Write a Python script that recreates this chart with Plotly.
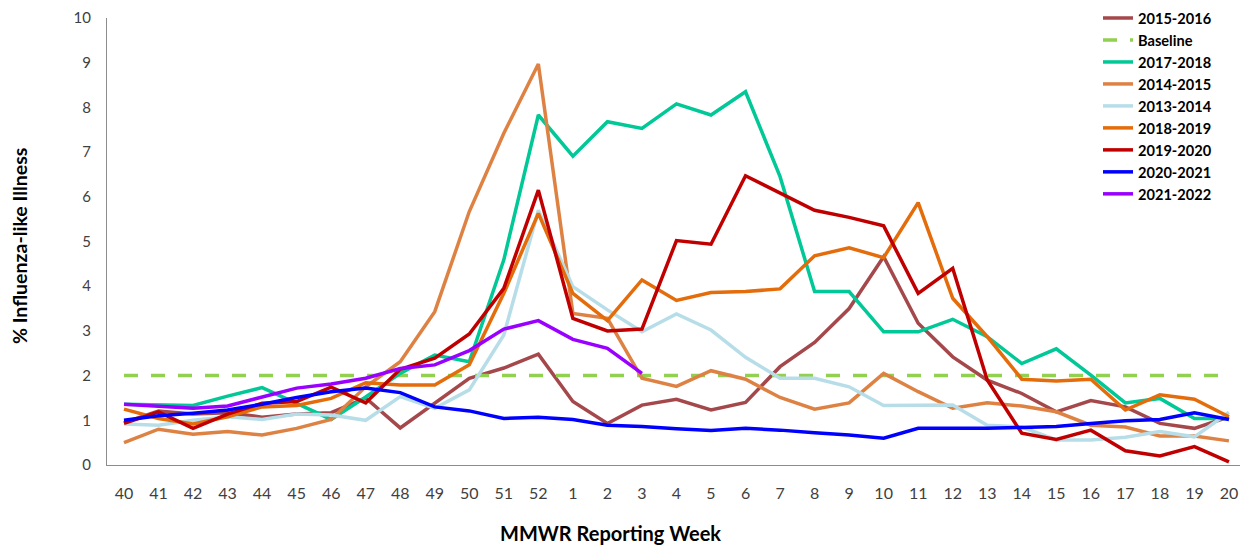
import plotly.graph_objects as go

weeks = ["40","41","42","43","44","45","46","47","48","49","50","51","52",
         "1","2","3","4","5","6","7","8","9","10","11","12","13","14","15","16","17","18","19","20"]

s2015_2016 = [0.95,1.21,1.14,1.17,1.07,1.14,1.17,1.50,0.83,1.39,1.94,2.17,2.48,
              1.42,0.93,1.34,1.47,1.23,1.40,2.20,2.74,3.50,4.66,3.17,2.42,1.90,1.60,1.19,1.44,1.30,0.93,0.82,1.08]
baseline = [2.0]*33
s2017_2018 = [1.36,1.34,1.33,1.54,1.73,1.38,1.02,1.52,2.05,2.46,2.31,4.59,7.83,
              6.91,7.68,7.53,8.08,7.83,8.35,6.45,3.88,3.88,2.98,2.98,3.26,2.87,2.27,2.60,2.01,1.39,1.49,1.04,1.04]
s2014_2015 = [0.50,0.80,0.69,0.75,0.67,0.82,1.02,1.75,2.31,3.43,5.67,7.42,8.97,
              3.39,3.28,1.94,1.76,2.11,1.92,1.51,1.25,1.39,2.05,1.64,1.27,1.39,1.32,1.19,0.89,0.85,0.65,0.65,0.54]
s2013_2014 = [0.92,0.89,1.00,1.08,1.02,1.14,1.12,1.00,1.53,1.27,1.68,2.91,5.70,
              3.99,3.47,2.98,3.38,3.02,2.41,1.94,1.94,1.75,1.33,1.33,1.34,0.89,0.85,0.56,0.56,0.62,0.75,0.63,1.18]
s2018_2019 = [1.25,1.04,0.92,1.08,1.30,1.33,1.49,1.84,1.79,1.79,2.24,3.84,5.63,
              3.84,3.23,4.14,3.68,3.86,3.88,3.94,4.68,4.86,4.64,5.87,3.73,2.87,1.92,1.88,1.92,1.23,1.57,1.47,1.08]
s2019_2020 = [0.93,1.19,0.82,1.14,1.38,1.42,1.74,1.39,2.14,2.39,2.93,3.95,6.15,
              3.28,3.00,3.04,5.02,4.94,6.47,6.08,5.70,5.54,5.35,3.84,4.40,1.90,0.71,0.57,0.78,0.32,0.20,0.41,0.07]
s2020_2021 = [1.00,1.10,1.16,1.23,1.36,1.51,1.64,1.72,1.62,1.30,1.21,1.04,1.07,
              1.02,0.89,0.86,0.81,0.77,0.82,0.78,0.72,0.67,0.60,0.82,0.82,0.82,0.84,0.86,0.93,0.99,1.02,1.17,1.02]
s2021_2022 = [1.36,1.32,1.27,1.32,1.53,1.72,1.81,1.94,2.16,2.24,2.56,3.04,3.23,
              2.81,2.61,2.05]

series = [
    ("2015-2016", s2015_2016, "#A5484B", "solid"),
    ("Baseline", baseline, "#92D050", "14px,13px"),
    ("2017-2018", s2017_2018, "#00C896", "solid"),
    ("2014-2015", s2014_2015, "#DE8244", "solid"),
    ("2013-2014", s2013_2014, "#B7DEE8", "solid"),
    ("2018-2019", s2018_2019, "#E46C0A", "solid"),
    ("2019-2020", s2019_2020, "#C00000", "solid"),
    ("2020-2021", s2020_2021, "#0000FF", "solid"),
    ("2021-2022", s2021_2022, "#9900FF", "solid"),
]

fig = go.Figure()
for name, vals, color, dash in series:
    fig.add_trace(go.Scatter(
        x=weeks[:len(vals)], y=vals, name=name, mode="lines",
        line=dict(color=color, width=3.5, dash=dash),
    ))

# page body has an 8px margin; figure is sized/offset to compensate
W, H = 1243, 537
PW, PH = 1133, 447
font_family = "Lato, Calibri, Carlito, sans-serif"
fig.update_layout(
    width=W, height=H,
    margin=dict(l=99, r=11, t=10, b=80, autoexpand=False),
    paper_bgcolor="white", plot_bgcolor="white",
    font=dict(family=font_family, color="#404040"),
    showlegend=True,
    legend=dict(
        x=(1098 - 107) / PW, y=1 + 16 / PH, xanchor="left", yanchor="top",
        font=dict(family=font_family, size=14.6, color="#000000", weight="bold"),
        bgcolor="rgba(0,0,0,0)", tracegroupgap=0,
    ),
    xaxis=dict(
        type="category", categoryorder="array", categoryarray=weeks,
        showgrid=False, zeroline=False, showline=True, linecolor="#8C8C8C", linewidth=1,
        ticks="", tickfont=dict(size=16, color="#404040"), ticklabelstandoff=14,
        range=[-0.492, 32.32],
    ),
    yaxis=dict(
        range=[0, 10], dtick=1, showgrid=False, zeroline=False,
        showline=True, linecolor="#8C8C8C", linewidth=1,
        ticks="", tickfont=dict(size=15, color="#404040"), ticklabelstandoff=12,
    ),
    annotations=[
        dict(text="<b>MMWR Reporting Week</b>", xref="paper", yref="paper",
             x=(610 - 107) / PW, y=-(533 - 465) / PH, xanchor="center", yanchor="middle",
             showarrow=False, font=dict(family=font_family, size=20, color="#000000")),
        dict(text="<b>% Influenza-like Illness</b>", xref="paper", yref="paper",
             x=-(107 - 20) / PW, y=(465 - 246) / PH, xanchor="center", yanchor="middle",
             textangle=-90, showarrow=False,
             font=dict(family=font_family, size=19.5, color="#000000")),
    ],
)

fig.write_html("out.html")
